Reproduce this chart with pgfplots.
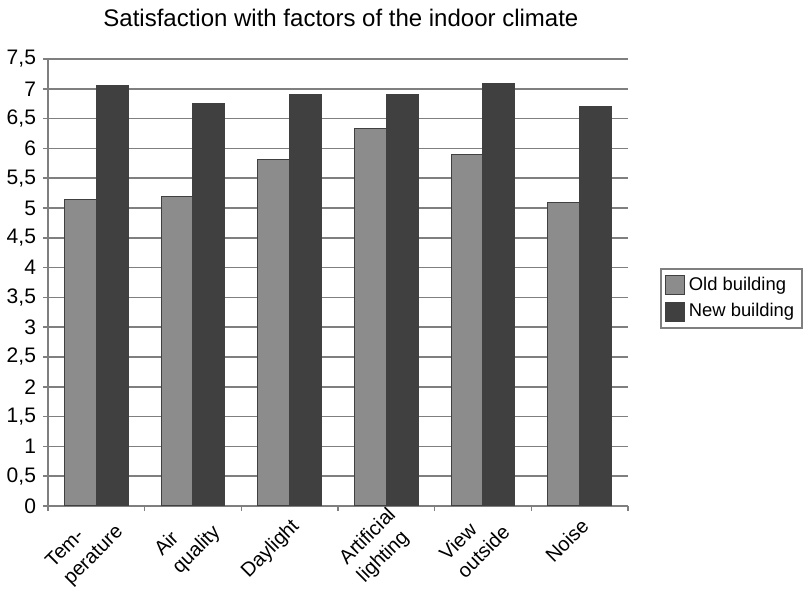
\documentclass[border=0pt]{standalone}
\usepackage{pgfplots}
\pgfplotsset{compat=1.18}
\usepackage{fontspec}
\setmainfont{Liberation Sans}
\definecolor{oldc}{HTML}{8C8C8C}
\definecolor{newc}{HTML}{404040}
\definecolor{gridc}{HTML}{7F7F7F}
\pgfplotsset{sqlegend/.style={legend image code/.code={\path[##1] (0pt,-4.75pt) rectangle (9.5pt,4.75pt);}}}
\begin{document}
\begin{tikzpicture}
\path[use as bounding box] (-24pt,-49pt) rectangle (377.5pt,253pt);
\begin{axis}[
    scale only axis,
    width=290pt, height=223.5pt,
    xmin=0, xmax=6, ymin=0, ymax=7.5,
    axis lines*=left,
    axis line style={gridc, line width=0.8pt},
    ytick={0,0.5,1,1.5,2,2.5,3,3.5,4,4.5,5,5.5,6,6.5,7,7.5},
    /pgf/number format/use comma,
    /pgf/number format/fixed,
    /pgf/number format/precision=1,
    /pgf/number format/assume math mode=true,
    y tick label style={font=\fontsize{10.5}{12}\selectfont},
    ymajorgrids=true,
    grid style={gridc, line width=0.75pt},
    % one-line category names
    xtick={2.5,5.5},
    xticklabels={Daylight,Noise},
    x tick label style={yshift=2pt, rotate=45, anchor=north east, align=left,
        font=\fontsize{10}{12.5}\selectfont},
    % two-line category names, raised a little
    extra x ticks={0.5,1.5,3.5,4.5},
    extra x tick labels={{Tem-\\perature},{Air\\quality},{Artificial\\lighting},{View\\outside}},
    extra x tick style={tick style={draw=none}, x tick label style={xshift=4pt, yshift=4pt}},
    major x tick style={draw=none},
    minor xtick={0,1,2,3,4,5,6},
    tick align=outside,
    major tick length=2.5pt, minor tick length=2.5pt,
    tick style={gridc, line width=0.75pt},
    title={Satisfaction with factors of the indoor climate},
    title style={at={(0.505,1.065)}, anchor=center, font=\fontsize{12}{14}\selectfont},
    legend style={at={(1.055,0.532)}, anchor=north west, draw=gridc, line width=1pt,
        font=\fontsize{9.2}{11}\selectfont, row sep=1pt, inner sep=2pt},
    legend cell align=left,
]
\addplot[ybar, bar width=0.33, bar shift=-0.165, fill=oldc, draw=black!75, line width=0.5pt, sqlegend]
    coordinates {(0.5,5.14) (1.5,5.2) (2.5,5.82) (3.5,6.34) (4.5,5.9) (5.5,5.09)};
\addlegendentry{Old building}
\addplot[ybar, bar width=0.33, bar shift=0.165, fill=newc, draw=black!75, line width=0.5pt, sqlegend]
    coordinates {(0.5,7.06) (1.5,6.75) (2.5,6.9) (3.5,6.9) (4.5,7.09) (5.5,6.71)};
\addlegendentry{New building}
\end{axis}
\end{tikzpicture}
\end{document}
